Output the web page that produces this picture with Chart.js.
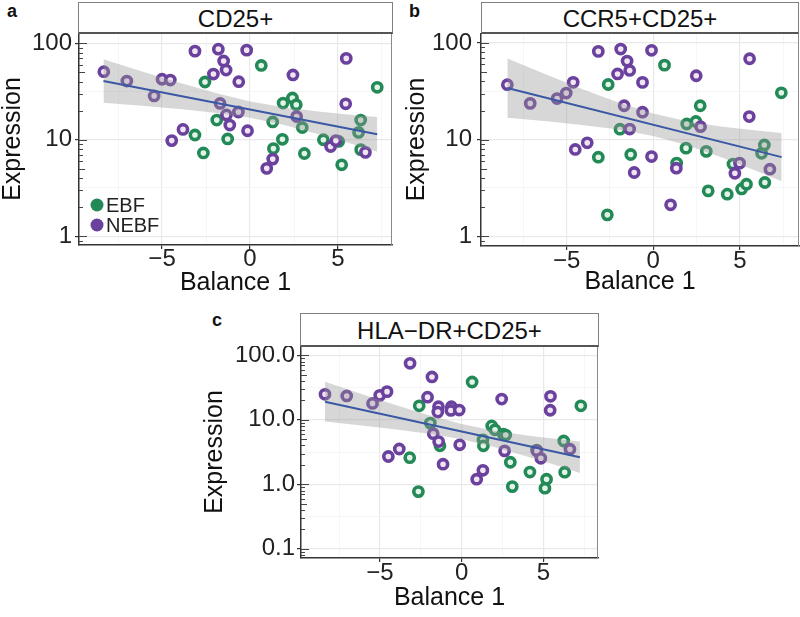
<!DOCTYPE html>
<html>
<head>
<meta charset="utf-8">
<script src="https://cdn.jsdelivr.net/npm/chart.js@4.4.0/dist/chart.umd.min.js"></script>
<style>
  body { margin: 0; background: #fff; width: 800px; height: 617px; position: relative; overflow: hidden; font-family: "Liberation Sans", Arial, sans-serif; }
  canvas { position: absolute; }
  .strip { position: absolute; box-sizing: border-box; border: 1px solid #808080; border-bottom: 2px solid #555; background: #fff; text-align: center; font-size: 24px; color: #111; z-index: 2; }
  .tag { position: absolute; font-weight: bold; font-size: 18px; line-height: 18px; color: #111; }
</style>
</head>
<body>
<div class="tag" style="left:7px;top:2px">a</div>
<div class="tag" style="left:409px;top:2px">b</div>
<div class="tag" style="left:212px;top:311px">c</div>
<div class="strip" style="left:78px;top:2px;width:315px;height:32px;line-height:32px">CD25+</div>
<div class="strip" style="left:481px;top:2px;width:318px;height:32px;line-height:32px">CCR5+CD25+</div>
<div class="strip" style="left:300px;top:313px;width:299px;height:34px;line-height:34px">HLA&minus;DR+CD25+</div>
<canvas id="chartA" width="400" height="267" style="left:0;top:33px"></canvas>
<canvas id="chartB" width="400" height="267" style="left:400px;top:33px"></canvas>
<canvas id="chartC" width="400" height="271" style="left:200px;top:346px"></canvas>
<script>
// groups and axis ticks
const groups = ["EBF", "NEBF"];
const xTickLabels = [-5, 0, 5];
const xMinorGrid = [-7.5, -2.5, 2.5, 7.5];
const yTicksAB = [1, 10, 100];
const yTicksC = [0.1, 1, 10, 100];
const yMinorGrid = [0.3162, 3.162, 31.62];

// panel a: CD25+
const aEbfX = [-2.56, -3.13, -2.65, -1.89, -1.27, 0.64, 1.29, 1.33, 1.88, 1.84, 2.41, 2.63, 2.97, 3.09, 4.17, 5.04, 5.21, 6.29, 6.17, 6.29, 7.23];
const aEbfY = [39.7, 11.2, 7.3, 16, 10.2, 59, 15.3, 8.1, 24, 10.1, 27.1, 23.1, 13.4, 7.2, 10, 9.6, 5.5, 16, 11.9, 7.9, 35];
const aNebfX = [-8.31, -7.0, -5.45, -5.0, -4.53, -4.45, -3.81, -3.13, -1.8, -2.08, -1.5, -1.36, -1.7, -1.34, -1.15, -0.64, -0.66, -0.19, -0.14, 0.95, 1.29, 2.44, 2.65, 4.58, 4.88, 5.47, 5.44, 6.56];
const aNebfY = [50.8, 40.6, 28.5, 42.4, 41.6, 9.8, 12.8, 83, 87, 48, 65.6, 52.8, 23.8, 18.1, 14.2, 40, 19.4, 85, 12.4, 5.05, 6.3, 47, 17.4, 8.5, 9.8, 69.8, 23.6, 7.4];
const aFitX = [-8.33, 7.23];
const aFitY = [40.6, 11.4];
const aBandX = [-8.33, -6, -4, -2, 0, 2, 4, 6, 7.23];
const aBandHi = [68.2, 50.2, 39.0, 30.7, 25.0, 21.6, 19.5, 18.0, 17.2];
const aBandLo = [24.2, 22.4, 20.8, 19.1, 16.9, 14.1, 11.3, 8.8, 7.5];

// panel b: CCR5+CD25+
const bEbfX = [-2.6, -3.17, -2.65, -1.92, -1.3, 0.65, 1.35, 1.89, 1.93, 2.46, 2.71, 3.06, 3.17, 4.27, 4.6, 5.1, 5.38, 6.25, 6.41, 6.44, 7.39];
const bEbfY = [37.2, 6.57, 1.66, 12.8, 7.0, 59, 5.7, 8.15, 14.5, 15.4, 22.4, 7.55, 2.94, 2.72, 5.58, 3.08, 3.45, 7.2, 8.8, 3.59, 30.5];
const bNebfX = [-8.42, -7.1, -5.55, -5.02, -4.62, -4.5, -3.81, -3.17, -1.88, -2.06, -1.51, -1.36, -1.68, -1.36, -1.1, -0.62, -0.62, -0.1, -0.1, 1.0, 1.33, 2.48, 2.73, 4.71, 4.98, 5.56, 5.54, 6.73];
const bNebfY = [37, 23.7, 26.6, 30.3, 39.2, 7.9, 9.25, 81.9, 86.6, 47.8, 65, 52, 22.4, 12.85, 4.56, 39.1, 19.2, 84, 6.67, 2.11, 5.05, 45.8, 13.6, 4.48, 5.7, 68.7, 17.3, 4.93];
const bFitX = [-8.42, 7.41];
const bFitY = [34.2, 6.58];
const bBandX = [-8.42, -6, -4, -2, 0, 2, 4, 6, 7.41];
const bBandHi = [69.2, 45.8, 32.9, 24.2, 18.6, 15.4, 13.6, 12.4, 11.7];
const bBandLo = [16.8, 15.4, 14.1, 12.7, 10.9, 8.7, 6.5, 4.7, 3.7];

// panel c: HLA-DR+CD25+
const cEbfX = [-2.6, -3.18, -2.65, -1.92, -1.33, 0.64, 1.3, 1.33, 1.84, 2.04, 2.55, 2.7, 2.98, 3.1, 4.18, 4.59, 5.2, 5.1, 6.25, 6.31, 7.3];
const cEbfY = [16.5, 2.59, 0.77, 8.9, 3.95, 38.7, 4.9, 3.95, 8.05, 7.0, 6.0, 5.8, 2.2, 0.92, 1.55, 3.4, 1.2, 0.87, 4.7, 1.54, 16.5];
const cNebfX = [-8.37, -7.04, -5.46, -5.02, -4.57, -4.49, -3.82, -3.16, -1.82, -2.09, -1.42, -1.46, -1.74, -1.41, -1.14, -0.63, -0.66, -0.15, -0.12, 0.92, 1.3, 2.45, 2.63, 4.61, 4.85, 5.44, 5.42, 6.63];
const cNebfY = [24.9, 23.5, 18, 24, 27.4, 2.7, 3.53, 75.5, 46.3, 22.5, 16, 13.2, 6.1, 4.6, 2.05, 16, 14, 14.2, 4.1, 1.2, 1.65, 21, 3.3, 3.3, 2.53, 23.2, 14.1, 3.5];
const cFitX = [-8.37, 7.24];
const cFitY = [19.1, 2.62];
const cBandX = [-8.37, -6, -4, -2, 0, 2, 4, 6, 7.24];
const cBandHi = [39.1, 24.6, 16.8, 11.8, 8.6, 6.8, 5.7, 5.0, 4.6];
const cBandLo = [9.4, 8.1, 7.1, 6.1, 5.0, 3.8, 2.7, 1.9, 1.5];

const FONT = "'Liberation Sans', Arial, sans-serif";
const GREEN = "#238a57";
const PURPLE = "#6a419d";

function pairs(xs, ys) {
  return xs.map((x, i) => ({ x: x, y: ys[i] }));
}

function isIn(list, v) {
  return list.some(t => Math.abs(t - v) <= Math.abs(t) * 1e-6);
}

function minusFmt(v) {
  return v < 0 ? "\u2212" + Math.abs(v) : String(v);
}

// ggplot annotation_logticks on the left side
const logTicks = {
  id: "logTicks",
  afterDraw(chart) {
    const y = chart.scales.y;
    const ctx = chart.ctx;
    const left = chart.chartArea.left;
    ctx.save();
    ctx.strokeStyle = "#444";
    ctx.lineWidth = 1;
    for (let d = Math.floor(Math.log10(y.min)); d <= Math.ceil(Math.log10(y.max)); d++) {
      for (let k = 1; k <= 9; k++) {
        const v = k * Math.pow(10, d);
        if (v < y.min || v > y.max) continue;
        const py = Math.round(y.getPixelForValue(v)) + 0.5;
        const len = k === 1 ? 8 : (k === 5 ? 6 : 4);
        ctx.beginPath();
        ctx.moveTo(left, py);
        ctx.lineTo(left + len, py);
        ctx.stroke();
      }
    }
    ctx.restore();
  }
};

// grey border on top and right of the panel
const panelFrame = {
  id: "panelFrame",
  afterDraw(chart) {
    const a = chart.chartArea;
    const ctx = chart.ctx;
    ctx.save();
    ctx.strokeStyle = "#8a8a8a";
    ctx.lineWidth = 1;
    ctx.beginPath();
    ctx.moveTo(a.left, a.top + 0.5);
    ctx.lineTo(a.right - 0.5, a.top + 0.5);
    ctx.lineTo(a.right - 0.5, a.bottom);
    ctx.stroke();
    ctx.restore();
  }
};

// legend inside panel a
const innerLegend = {
  id: "innerLegend",
  afterDraw(chart, args, opts) {
    if (!opts.show) return;
    const a = chart.chartArea;
    const ctx = chart.ctx;
    const colors = [GREEN, PURPLE];
    ctx.save();
    ctx.font = "20px " + FONT;
    ctx.textBaseline = "middle";
    groups.forEach((g, i) => {
      const cy = a.bottom - 40 + i * 20;
      ctx.fillStyle = colors[i];
      ctx.beginPath();
      ctx.arc(a.left + 18, cy, 6.5, 0, Math.PI * 2);
      ctx.fill();
      ctx.fillStyle = "#222";
      ctx.fillText(g, a.left + 27, cy + 1);
    });
    ctx.restore();
  }
};

function buildPanel(id, p) {
  const pointStyle = (color, fill) => ({
    borderColor: color,
    backgroundColor: fill,
    pointRadius: 4.6,
    pointBorderWidth: 3.6,
    pointHoverRadius: 4.6
  });
  return new Chart(document.getElementById(id), {
    type: "scatter",
    data: {
      datasets: [
        {
          label: "band-hi", type: "line", data: pairs(p.bandX, p.bandHi),
          fill: "+1", backgroundColor: "rgba(150,150,150,0.38)",
          borderColor: "rgba(0,0,0,0)", borderWidth: 0, pointRadius: 0, order: 1
        },
        {
          label: "band-lo", type: "line", data: pairs(p.bandX, p.bandLo),
          fill: false, borderColor: "rgba(0,0,0,0)", borderWidth: 0, pointRadius: 0, order: 1
        },
        {
          label: "fit", type: "line", data: pairs(p.fitX, p.fitY),
          borderColor: "#3a58a3", borderWidth: 2, pointRadius: 0, fill: false, order: 0
        },
        Object.assign({ label: groups[0], data: pairs(p.ebfX, p.ebfY), order: 3 }, pointStyle(GREEN, "#e2f3e8")),
        Object.assign({ label: groups[1], data: pairs(p.nebfX, p.nebfY), order: 2 }, pointStyle(PURPLE, "#f1e5f4"))
      ]
    },
    options: {
      responsive: false,
      animation: false,
      events: [],
      layout: { autoPadding: false, padding: { left: 0, right: p.padRight, top: 0, bottom: 0 } },
      plugins: {
        legend: { display: false },
        tooltip: { enabled: false },
        innerLegend: { show: !!p.legend }
      },
      scales: {
        x: {
          type: "linear",
          min: p.xMin,
          max: p.xMax,
          afterBuildTicks: s => {
            s.ticks = xMinorGrid.concat(xTickLabels).sort((m, n) => m - n).map(v => ({ value: v }));
          },
          afterFit: s => { s.height = p.xAxisHeight; s.paddingLeft = 0; s.paddingRight = 0; },
          ticks: {
            autoSkip: false, maxRotation: 0, padding: p.xTickPad, color: "#222",
            font: { family: FONT, size: 24, lineHeight: 1 },
            callback: v => (isIn(xTickLabels, v) ? minusFmt(v) : "")
          },
          grid: {
            color: c => (c.tick && isIn(xTickLabels, c.tick.value) ? "#e9e9e9" : "#f4f4f4"),
            lineWidth: c => (c.tick && isIn(xTickLabels, c.tick.value) ? 1.2 : 0.8),
            tickLength: 4,
            tickColor: c => (c.tick && isIn(xTickLabels, c.tick.value) ? "#333" : "rgba(0,0,0,0)")
          },
          border: { color: "#333", width: 1.5 },
          title: {
            display: true, text: "Balance 1", color: "#111",
            font: { family: FONT, size: 25, lineHeight: 1 },
            padding: { top: 0, bottom: p.xTitlePad }
          }
        },
        y: {
          type: "logarithmic",
          min: p.yMin,
          max: p.yMax,
          afterBuildTicks: s => {
            s.ticks = p.yTicks.concat(yMinorGrid)
              .filter(v => v >= p.yMin && v <= p.yMax)
              .sort((m, n) => m - n)
              .map(v => ({ value: v }));
          },
          afterFit: s => { s.width = p.yAxisWidth; s.paddingTop = 0; s.paddingBottom = 0; },
          ticks: {
            autoSkip: false, padding: p.yTickPad, color: "#222",
            font: { family: FONT, size: 24, lineHeight: 1 },
            callback: v => (isIn(p.yTicks, v) ? p.yFmt(v) : "")
          },
          grid: {
            color: c => (c.tick && isIn(p.yTicks, c.tick.value) ? "#e9e9e9" : "#f4f4f4"),
            lineWidth: c => (c.tick && isIn(p.yTicks, c.tick.value) ? 1.2 : 0.8),
            tickLength: 4,
            tickColor: c => (c.tick && isIn(p.yTicks, c.tick.value) ? "#333" : "rgba(0,0,0,0)")
          },
          border: { color: "#333", width: 1.5 },
          title: {
            display: true, text: "Expression", color: "#111",
            font: { family: FONT, size: 25, lineHeight: 1 },
            padding: { top: p.yTitlePad, bottom: 0 }
          }
        }
      }
    },
    plugins: [logTicks, panelFrame, innerLegend]
  });
}

buildPanel("chartA", {
  ebfX: aEbfX, ebfY: aEbfY, nebfX: aNebfX, nebfY: aNebfY,
  fitX: aFitX, fitY: aFitY, bandX: aBandX, bandHi: aBandHi, bandLo: aBandLo,
  xMin: -9.72, xMax: 8.07, yMin: 0.81, yMax: 128,
  yTicks: yTicksAB, yFmt: v => String(v),
  yAxisWidth: 79, xAxisHeight: 55, padRight: 8,
  yTickPad: 3, xTickPad: -2, yTitlePad: 0.5, xTitlePad: 4.5,
  legend: true
});

buildPanel("chartB", {
  ebfX: bEbfX, ebfY: bEbfY, nebfX: bNebfX, nebfY: bNebfY,
  fitX: bFitX, fitY: bFitY, bandX: bBandX, bandHi: bBandHi, bandLo: bBandLo,
  xMin: -9.94, xMax: 8.41, yMin: 0.79, yMax: 127,
  yTicks: yTicksAB, yFmt: v => String(v),
  yAxisWidth: 81, xAxisHeight: 54, padRight: 1,
  yTickPad: 5, xTickPad: -1, yTitlePad: 4.5, xTitlePad: 5.5,
  legend: false
});

buildPanel("chartC", {
  ebfX: cEbfX, ebfY: cEbfY, nebfX: cNebfX, nebfY: cNebfY,
  fitX: cFitX, fitY: cFitY, bandX: cBandX, bandHi: cBandHi, bandLo: cBandLo,
  xMin: -9.84, xMax: 8.35, yMin: 0.0718, yMax: 140,
  yTicks: yTicksC, yFmt: v => v.toFixed(1),
  yAxisWidth: 101, xAxisHeight: 59, padRight: 2,
  yTickPad: 2, xTickPad: -1, yTitlePad: 2.5, xTitlePad: 6.5,
  legend: false
});
</script>
</body>
</html>
